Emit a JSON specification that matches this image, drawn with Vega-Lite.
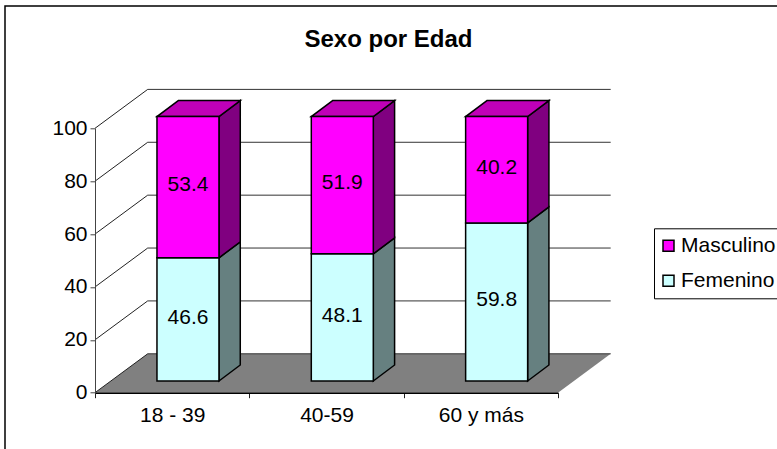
{
"$schema":"https://vega.github.io/schema/vega-lite/v6.json",
"width":463,"height":264.4,
"autosize":{"type":"none"},
"padding":{"left":95,"top":128.3,"right":219,"bottom":56.3},
"background":"white",
"config":{"view":{"stroke":null},"font":"Liberation Sans"},
"title":{"text":"Sexo por Edad","font":"Liberation Sans","fontSize":24,"fontWeight":"bold","color":"black","anchor":"middle","dx":62,"offset":0,"dy":47},
"datasets":{
 "datos":[
  {"edad":"18 - 39","sexo":"Femenino","orden":1,"valor":46.6,"profundidad":[0,1]},
  {"edad":"18 - 39","sexo":"Masculino","orden":2,"valor":53.4,"profundidad":[0,1]},
  {"edad":"40-59","sexo":"Femenino","orden":1,"valor":48.1,"profundidad":[0,1]},
  {"edad":"40-59","sexo":"Masculino","orden":2,"valor":51.9,"profundidad":[0,1]},
  {"edad":"60 y más","sexo":"Femenino","orden":1,"valor":59.8,"profundidad":[0,1]},
  {"edad":"60 y más","sexo":"Masculino","orden":2,"valor":40.2,"profundidad":[0,1]}
 ],
 "marcas":[
  {"marca":0,"profundidad":[0,1]},{"marca":20,"profundidad":[0,1]},{"marca":40,"profundidad":[0,1]},
  {"marca":60,"profundidad":[0,1]},{"marca":80,"profundidad":[0,1]},{"marca":100,"profundidad":[0,1]}
 ]
},
"resolve":{"scale":{"x":"independent"},"axis":{"y":"independent"}},
"layer":[
 {"data":{"values":[{"marco":1}]},
  "mark":{"type":"rect","fill":"white","stroke":"black","strokeWidth":1.5,"clip":false},
  "encoding":{"x":{"value":-90},"x2":{"value":700},"y":{"value":-122.3},"y2":{"value":400}}},
 {"data":{"name":"marcas"},
  "transform":[{"flatten":["profundidad"]},{"filter":"datum.marca==0"}],
  "mark":{"type":"area","orient":"horizontal","fill":"#808080","xOffset":{"expr":"datum.profundidad*52.7"},"x2Offset":{"expr":"datum.profundidad*52.7"},"yOffset":{"expr":"datum.profundidad*-38.9"}},
  "encoding":{"x":{"datum":0,"type":"quantitative","scale":{"domain":[0,1]},"axis":null},"x2":{"datum":1},
   "y":{"field":"marca","type":"quantitative","stack":null,"scale":{"domain":[0,100]},
    "axis":{"title":null,"values":[0,20,40,60,80,100],"grid":false,"labelFontSize":21,"labelColor":"black","labelFont":"Liberation Sans","labelPadding":3,"tickSize":5,"domainColor":"#444444","tickColor":"#444444","zindex":1}}}},
 {"data":{"name":"marcas"},
  "mark":{"type":"rule","color":"#333333","strokeWidth":1,"xOffset":52.7,"x2Offset":52.7,"yOffset":-38.9},
  "encoding":{"x":{"datum":0,"type":"quantitative","scale":{"domain":[0,1]},"axis":null},"x2":{"datum":1},
   "y":{"field":"marca","type":"quantitative","axis":null}}},
 {"data":{"name":"marcas"},
  "transform":[{"flatten":["profundidad"]}],
  "mark":{"type":"line","color":"#222222","strokeWidth":1,"xOffset":{"expr":"datum.profundidad*52.7"},"yOffset":{"expr":"datum.profundidad*-38.9"}},
  "encoding":{"x":{"datum":0,"type":"quantitative","scale":{"domain":[0,1]},"axis":null},
   "y":{"field":"marca","type":"quantitative","axis":null},"detail":{"field":"marca"}}},
 {"data":{"name":"datos"},
  "transform":[{"stack":"valor","groupby":["edad"],"sort":[{"field":"orden","order":"ascending"}],"as":["y0","y1"]}],
  "encoding":{"x":{"field":"edad","type":"nominal","sort":null,"scale":{"type":"band","paddingInner":0,"paddingOuter":0,"domain":["18 - 39","40-59","60 y más"]},
    "axis":{"title":null,"labelAngle":0,"labelFontSize":21,"labelColor":"black","labelFont":"Liberation Sans","labelPadding":7,"tickSize":5,"tickBand":"extent","domainColor":"black","tickColor":"#222222","domainWidth":1.5,"zindex":1}}},
  "layer":[
   {"transform":[{"filter":"datum.sexo=='Femenino'"},{"flatten":["profundidad"]}],
    "mark":{"type":"area","fill":"#668080","stroke":"black","strokeWidth":1.5,"xOffset":{"expr":"46.8+datum.profundidad*21.3"},"yOffset":{"expr":"-11.7-datum.profundidad*16"},"y2Offset":{"expr":"-11.7-datum.profundidad*16"}},
    "encoding":{"y":{"field":"y0","type":"quantitative","axis":null},"y2":{"field":"y1"},"detail":{"field":"edad"}}},
   {"transform":[{"filter":"datum.sexo=='Masculino'"},{"flatten":["profundidad"]}],
    "mark":{"type":"area","fill":"#800080","stroke":"black","strokeWidth":1.5,"xOffset":{"expr":"46.8+datum.profundidad*21.3"},"yOffset":{"expr":"-11.7-datum.profundidad*16"},"y2Offset":{"expr":"-11.7-datum.profundidad*16"}},
    "encoding":{"y":{"field":"y0","type":"quantitative","axis":null},"y2":{"field":"y1"},"detail":{"field":"edad"}}},
   {"transform":[{"filter":"datum.sexo=='Masculino'"},{"flatten":["profundidad"]}],
    "mark":{"type":"area","orient":"horizontal","fill":"#C000B8","stroke":"black","strokeWidth":1.5,"xOffset":{"expr":"-15.2+datum.profundidad*21.3"},"x2Offset":{"expr":"46.8+datum.profundidad*21.3"},"yOffset":{"expr":"-11.7-datum.profundidad*16"}},
    "encoding":{"x2":{"field":"edad"},"y":{"field":"y1","type":"quantitative","stack":null,"axis":null},"detail":{"field":"edad"}}},
   {"mark":{"type":"bar","size":62,"stroke":"black","strokeWidth":1.5,"xOffset":15.8,"yOffset":-11.7,"y2Offset":-11.7},
    "encoding":{"y":{"field":"y0","type":"quantitative","axis":null},
     "y2":{"field":"y1"},
     "color":{"field":"sexo","type":"nominal","scale":{"domain":["Masculino","Femenino"],"range":["#FF00FF","#CCFFFF"]},
      "legend":{"title":null,"orient":"none","legendX":559,"legendY":100,"fillColor":"white","strokeColor":"black","padding":7,"symbolType":"square","symbolSize":121,"symbolOffset":-3,"symbolStrokeColor":"black","symbolStrokeWidth":1.5,"labelFontSize":21,"labelColor":"black","labelFont":"Liberation Sans","labelOffset":2,"rowPadding":13,"labelLimit":200}}}},
   {"mark":{"type":"text","fontSize":21,"color":"black","font":"Liberation Sans","xOffset":15.8,"yOffset":-13.5},
    "encoding":{"y":{"field":"valor","type":"quantitative","stack":"zero","bandPosition":0.5,"axis":null},"detail":{"field":"sexo"},"order":{"field":"orden"},"text":{"field":"valor","type":"quantitative","format":".1f"}}}
  ]}
]
}
